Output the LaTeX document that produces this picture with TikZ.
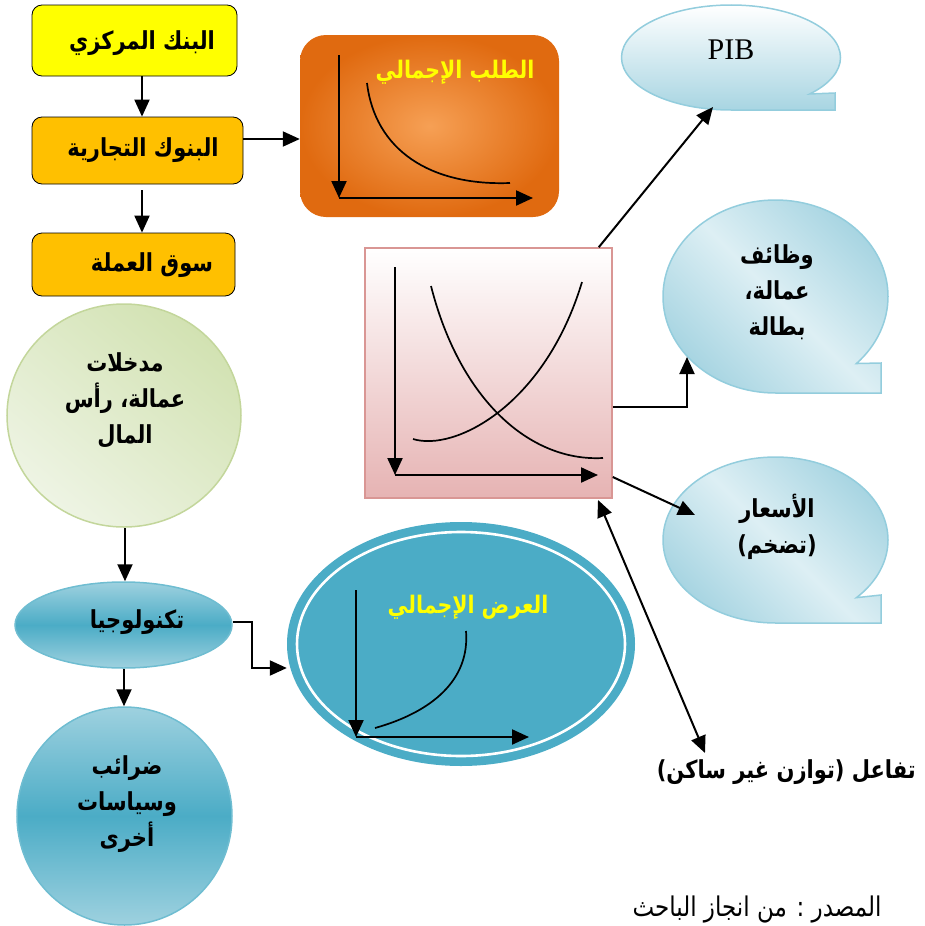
\documentclass[tikz,border=0pt]{standalone}
\usepackage{fontspec}
\usepackage{graphicx}
\usetikzlibrary{arrows.meta,shapes.geometric}
\newfontfamily\arabicfont[Script=Arabic]{DejaVu Sans}
\newfontfamily\pibfont{Liberation Serif}
\TeXXeTstate=1
\newcommand\AR[1]{\scalebox{1}[1.18]{\beginR #1\endR}}
\definecolor{bankyellow}{HTML}{FFFF00}
\definecolor{bankorange}{HTML}{FFC000}
\definecolor{demout}{HTML}{E06A10}
\definecolor{demin}{HTML}{F6A055}
\definecolor{calloutedge}{HTML}{93CDDD}
\definecolor{calloutlight}{HTML}{DDEFF4}
\definecolor{calloutdark}{HTML}{A8D5E2}
\definecolor{greenedge}{HTML}{C3D69B}
\definecolor{greenlight}{HTML}{EEF4E4}
\definecolor{greendark}{HTML}{D2E2B2}
\definecolor{tealmain}{HTML}{4BACC6}
\definecolor{teallight}{HTML}{9ED1DF}
\definecolor{pinkedge}{HTML}{D99694}
\definecolor{pinkdark}{HTML}{E6B3B3}
\definecolor{titleyellow}{HTML}{FFFF00}
\begin{document}
\begin{tikzpicture}[x=1pt,y=-1pt,
  arr/.style={line width=2pt,-{Triangle[length=17pt,width=15pt]}},
  darr/.style={line width=2pt,{Triangle[length=17pt,width=15pt]}-{Triangle[length=17pt,width=15pt]}},
  axarr/.style={line width=2.2pt,-{Triangle[length=17pt,width=15pt]}},
  curve/.style={line width=1.7pt},
  bankbox/.style={draw=black,line width=0.8pt,rounded corners=10pt,inner sep=0pt},
  artext/.style={font=\arabicfont\bfseries\fontsize{21}{36}\selectfont,align=center,inner sep=0pt},
  ytitle/.style={font=\arabicfont\bfseries\fontsize{20.5}{22}\selectfont,text=titleyellow,inner sep=0pt},
  callout/.style={draw=calloutedge,line width=1.5pt}
]
\useasboundingbox (0,0) rectangle (925,926);

% ---- banks column ----
\node[bankbox,fill=bankyellow,minimum width=205pt,minimum height=71pt] (b1) at (134.5,40.5) {};
\node[artext] (t1) at (142,43) {\AR{البنك المركزي}};
\node[bankbox,fill=bankorange,minimum width=211pt,minimum height=67pt] (b2) at (137.5,150.5) {};
\node[artext] (t2) at (143,150) {\AR{البنوك التجارية}};
\node[bankbox,fill=bankorange,minimum width=203pt,minimum height=63pt] (b3) at (133.5,264.5) {};
\node[artext] (t3) at (152,265) {\AR{سوق العملة}};

\draw[arr] (b1.south -| 142,0) -- (b2.north -| 142,0);
\draw[arr] (b2.south -| 142,0) ++(0,6) -- (b3.north -| 142,0);

% ---- aggregate demand ----
\node[rounded corners=26pt,minimum width=259pt,minimum height=182pt,inner sep=0pt,
      inner color=demin,outer color=demout] (dem) at (429.5,126) {};
\draw[arr] (b2.east |- 0,139) -- (dem.west |- 0,139);
\coordinate (dO) at (339,198);
\coordinate (dY) at (339,55);
\coordinate (dX) at (533,198);
\draw[axarr] (dY) -- (dO);
\draw[axarr] (dO) -- (dX);
\draw[curve] (367,83) .. controls (375,150) and (430,186) .. (510,183);
\node[ytitle] (demt) at (455,72) {\AR{الطلب الإجمالي}};

% ---- central market box ----
\node[draw=pinkedge,line width=1.5pt,top color=white,bottom color=pinkdark,
      minimum width=247pt,minimum height=250pt,inner sep=0pt] (mk) at (488.5,373) {};
\coordinate (mO) at (395,475);
\coordinate (mY) at (395,267);
\coordinate (mX) at (598,475);
\draw[axarr] (mY) -- (mO);
\draw[axarr] (mO) -- (mX);
\draw[curve] (431,286) .. controls (460,400) and (530,462) .. (603,458);
\draw[curve] (413,439) .. controls (455,452) and (545,405) .. (582,282);

% ---- PIB callout ----
\shadedraw[callout,top color=white,bottom color=calloutdark]
  (731,110) arc[start angle=90,end angle=404,x radius=109.5,y radius=52.5]
  -- (835,93) -- (835,110) -- cycle;
\coordinate (pibin) at (713,107);
\node[font=\pibfont\fontsize{30}{30}\selectfont,inner sep=0pt] (pib) at (731,50) {PIB};

% ---- jobs callout ----
\shadedraw[callout,top color=calloutdark,bottom color=calloutdark,middle color=calloutlight,shading angle=-45]
  (775.5,393) arc[start angle=90,end angle=404,x radius=112.5,y radius=96.5]
  -- (881,363) -- (881,393) -- cycle;
\coordinate (jobin) at (687,357);
\node[artext] (jobt) at (777,292) {\AR{وظائف}\\\AR{عمالة،}\\\AR{بطالة}};

% ---- prices callout ----
\shadedraw[callout,top color=calloutdark,bottom color=calloutdark,middle color=calloutlight,shading angle=-45]
  (775.5,623) arc[start angle=90,end angle=404,x radius=112.5,y radius=83]
  -- (881,595) -- (881,623) -- cycle;
\coordinate (pricein) at (695,515);
\node[artext] (pricet) at (777,527) {\AR{الأسعار}\\\AR{(تضخم)}};

% ---- arrows from market ----
\draw[arr] ([xshift=-14pt]mk.north east) -- (pibin);
\draw[arr] (mk.east |- 0,407) -| (jobin);
\draw[arr] (mk.east |- 0,477) -- (pricein);

% ---- interaction ----
\coordinate (itop) at (598,500);
\node[artext,anchor=east] (inter) at (916,772) {\AR{تفاعل (توازن غير ساكن)}};
\coordinate (ibot) at (705,753);
\draw[darr] (itop) -- (ibot);

% ---- inputs circle ----
\node[ellipse,draw=greenedge,line width=1.5pt,top color=greendark,bottom color=greenlight,shading angle=-40,
      minimum width=234pt,minimum height=223pt,inner sep=0pt] (inp) at (124,415.5) {};
\node[artext] (inpt) at (125,400) {\AR{مدخلات}\\\AR{عمالة، رأس}\\\AR{المال}};

% ---- technology ----
\node[ellipse,draw=tealmain!80,line width=1.5pt,top color=teallight,bottom color=teallight,middle color=tealmain,
      minimum width=217pt,minimum height=86pt,inner sep=0pt] (tech) at (123.5,625) {};
\node[artext] (techt) at (137,622) {\AR{تكنولوجيا}};
\draw[arr] (inp.south -| 125,0) -- (tech.north -| 125,0);

% ---- taxes circle ----
\node[ellipse,draw=tealmain!80,line width=1.5pt,top color=teallight,bottom color=teallight,middle color=tealmain,
      minimum width=215pt,minimum height=218pt,inner sep=0pt] (tax) at (124.5,816) {};
\node[artext] (taxt) at (127,804) {\AR{ضرائب}\\\AR{وسياسات}\\\AR{أخرى}};
\draw[arr] (tech.south -| 124,0) -- (tax.north -| 124,0);

% ---- aggregate supply ----
\node[ellipse,fill=tealmain,minimum width=348pt,minimum height=244pt,inner sep=0pt] (sup) at (461,644) {};
\draw[white,line width=2.6pt] (sup.center) ellipse[x radius=164,y radius=112];
\coordinate (sO) at (356,737);
\coordinate (sY) at (356,590);
\coordinate (sX) at (529,737);
\draw[axarr] (sY) -- (sO);
\draw[axarr] (sO) -- (sX);
\draw[curve] (375,728) .. controls (432,712) and (470,680) .. (466,631);
\node[ytitle] (supt) at (468,607) {\AR{العرض الإجمالي}};
\draw[arr] (tech.east |- 0,622) -- (252,622) |- (sup.west |- 0,668);

% ---- source ----
\node[font=\arabicfont\fontsize{23}{26}\selectfont,inner sep=0pt,anchor=south] (src) at (757,923) {\AR{المصدر : من انجاز الباحث}};
\end{tikzpicture}
\end{document}
